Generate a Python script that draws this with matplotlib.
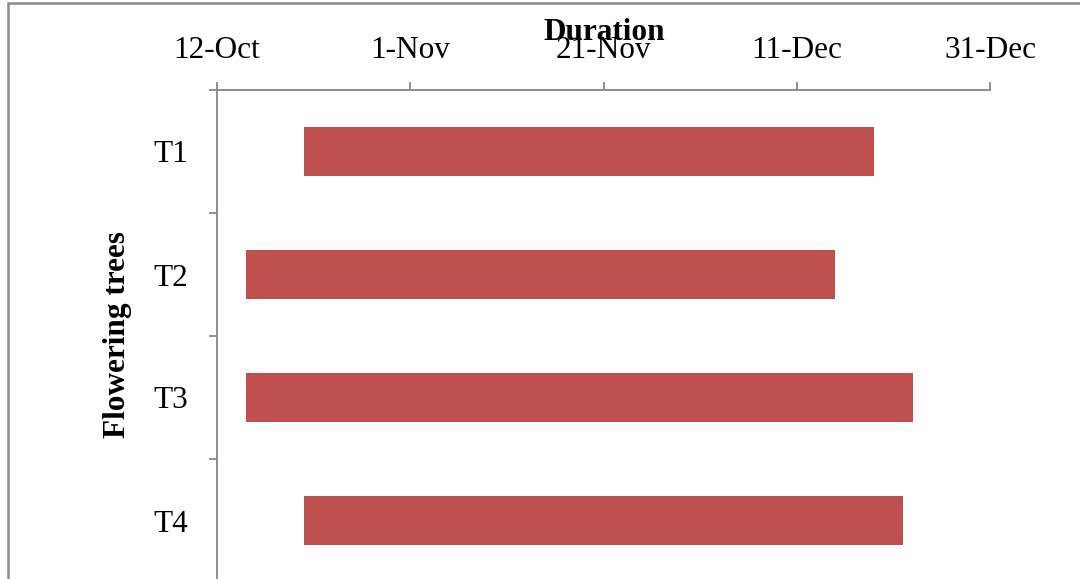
import matplotlib
matplotlib.use("Agg")
import matplotlib.pyplot as plt
import matplotlib.dates as mdates
from matplotlib.patches import Rectangle
from matplotlib.ticker import FixedLocator, NullFormatter
from datetime import date

# Flowering period of each tree
trees = ["T1", "T2", "T3", "T4"]
start_dates = ["2012-10-21", "2012-10-15", "2012-10-15", "2012-10-21"]
end_dates = ["2012-12-19", "2012-12-15", "2012-12-23", "2012-12-22"]
tick_dates = ["2012-10-12", "2012-11-01", "2012-11-21", "2012-12-11", "2012-12-31"]

plt.rcParams["font.family"] = ["Liberation Serif", "DejaVu Serif"]

BAR = "#C0504D"
GRID = "#868686"
FS = 22.5

fig = plt.figure(figsize=(10.8, 5.79), dpi=100)
ax = fig.add_axes([217 / 1080, 1 - 582 / 579, 773 / 1080, 492 / 579])

to_num = lambda s: mdates.date2num(date.fromisoformat(s))
starts = [to_num(s) for s in start_dates]
ends = [to_num(e) for e in end_dates]
widths = [e - s for s, e in zip(starts, ends)]
ypos = list(range(len(trees)))

ax.barh(ypos, widths, left=starts, height=0.4, color=BAR, zorder=3)

ticks = [to_num(t) for t in tick_dates]
ax.set_xlim(ticks[0], ticks[-1])
ax.set_ylim(len(trees) - 0.5, -0.5)

ax.xaxis.tick_top()
ax.set_xticks(ticks)
ax.xaxis.set_major_formatter(mdates.DateFormatter("%-d-%b"))
ax.tick_params(axis="x", which="major", direction="out", length=6, width=1.3,
               color=GRID, labelsize=FS, pad=12)

ax.yaxis.set_major_locator(FixedLocator([i - 0.5 for i in range(len(trees) + 1)]))
ax.yaxis.set_major_formatter(NullFormatter())
ax.yaxis.set_minor_locator(FixedLocator(ypos))
ax.set_yticklabels(trees, minor=True)
ax.tick_params(axis="y", which="major", direction="out", length=6, width=1.3, color=GRID)
ax.tick_params(axis="y", which="minor", length=0, labelsize=FS, pad=21)

for side in ("right", "bottom"):
    ax.spines[side].set_visible(False)
for side in ("left", "top"):
    ax.spines[side].set_color(GRID)
    ax.spines[side].set_linewidth(1.3)

fig.text(604 / 1080, 1 - 32 / 579, "Duration", ha="center", va="center",
         fontsize=FS, fontweight="bold")
fig.text(117 / 1080, 1 - 335 / 579, "Flowering trees", ha="center", va="center",
         rotation=90, fontsize=FS, fontweight="bold")

# outer frame of the chart area
fig.add_artist(Rectangle((8 / 1080, -0.1), 1.2, 1.1 - 2.5 / 579, transform=fig.transFigure,
                         fill=False, edgecolor="#8a8a8a", linewidth=1.8))

fig.savefig("out.png", dpi=100)
